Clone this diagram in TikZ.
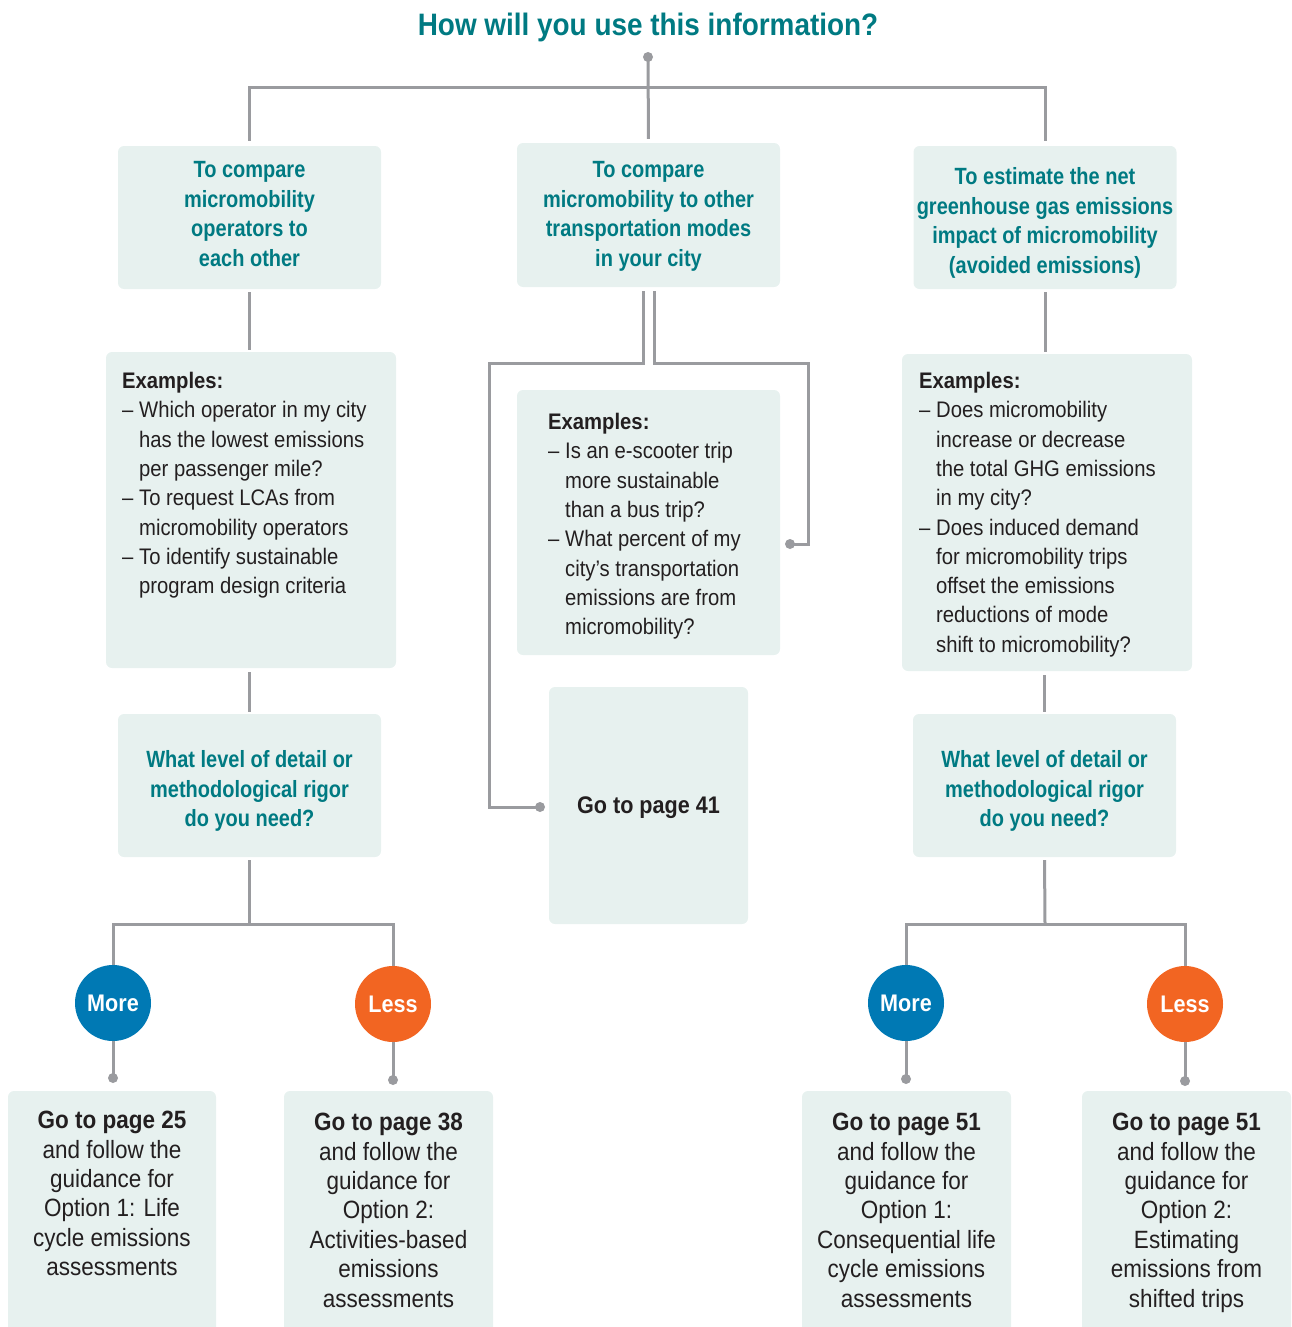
\documentclass[tikz,border=0pt]{standalone}
\usepackage{fontspec}
\setmainfont[FakeStretch=0.9]{Liberation Sans}
\newfontfamily\titlefont[FakeStretch=0.9]{Liberation Sans}
\newfontfamily\tealfont[FakeStretch=0.85]{Liberation Sans}
\usetikzlibrary{calc}
\definecolor{tealtxt}{HTML}{007A82}
\definecolor{boxfill}{HTML}{E7F1EF}
\definecolor{linegray}{HTML}{9A9B9F}
\definecolor{darktxt}{HTML}{231F20}
\definecolor{moreblue}{HTML}{0079B4}
\definecolor{lessorange}{HTML}{F26522}
\begin{document}
\begin{tikzpicture}[x=1pt,y=-1pt,
  box/.style={fill=boxfill, rounded corners=6pt, inner sep=0pt, align=center},
  tealbox/.style={box, minimum width=263pt, minimum height=143pt},
  tealtext/.style={anchor=north, align=center, inner sep=0pt, text=tealtxt, font=\tealfont\fontsize{23.5}{29.5}\selectfont\bfseries},
  conn/.style={draw=linegray, line width=3pt},
  dot/.style={circle, fill=linegray, inner sep=0pt, minimum size=10pt},
  bubble/.style={circle, inner sep=0pt, minimum size=76pt, text=white, font=\fontsize{24}{28}\selectfont\bfseries},
  extext/.style={anchor=north west, align=left, inner sep=0pt, text=darktxt, font=\fontsize{22.5}{29.3}\selectfont},
  gotext/.style={anchor=north, align=center, inner sep=0pt, text=darktxt, font=\fontsize{25}{29.4}\selectfont}
]
\useasboundingbox (0,0) rectangle (1292,1327);
\newcommand{\dsh}{\makebox[17pt][l]{–}}
\newcommand{\ind}{\hspace*{17pt}}

% title
\node[text=tealtxt, font=\titlefont\fontsize{31}{36}\selectfont\bfseries] (title) at (648,27) {How will you use this information?};

% first row
\node[tealbox] (A1) at (249.5,217.5) {};
\node[tealbox, minimum height=144pt] (B1) at (648.5,215) {};
\node[tealbox] (C1) at (1045,217.5) {};
\node[tealtext] (A1t) at (249.5,161.5) {To compare\\micromobility\\operators to\\each other};
\node[tealtext] (B1t) at (648.5,161.5) {To compare\\micromobility to other\\transportation modes\\in your city};
\node[tealtext] (C1t) at (1045,167.5) {To estimate the net\\greenhouse gas emissions\\impact of micromobility\\(avoided emissions)};

% examples boxes
\node[box, minimum width=290pt, minimum height=316pt] (A2) at (251,510) {};
\node[extext] (A2t) at (122,372) {\textbf{Examples:}\\
\dsh Which operator in my city\\
\ind has the lowest emissions\\
\ind per passenger mile?\\
\dsh To request LCAs from\\
\ind micromobility operators\\
\dsh To identify sustainable\\
\ind program design criteria};

\node[box, minimum width=263pt, minimum height=265pt] (B2) at (648.5,522.5) {};
\node[extext] (B2t) at (548,413) {\textbf{Examples:}\\
\dsh Is an e-scooter trip\\
\ind more sustainable\\
\ind than a bus trip?\\
\dsh What percent of my\\
\ind city’s transportation\\
\ind emissions are from\\
\ind micromobility?};

\node[box, minimum width=290pt, minimum height=317pt] (C2) at (1047,512.5) {};
\node[extext] (C2t) at (919,372) {\textbf{Examples:}\\
\dsh Does micromobility\\
\ind increase or decrease\\
\ind the total GHG emissions\\
\ind in my city?\\
\dsh Does induced demand\\
\ind for micromobility trips\\
\ind offset the emissions\\
\ind reductions of mode\\
\ind shift to micromobility?};

% question boxes
\node[tealbox] (A3) at (249.5,785.5) {};
\node[tealbox] (C3) at (1044.5,785.5) {};
\node[tealtext] (A3t) at (249.5,750.5) {What level of detail or\\methodological rigor\\do you need?};
\node[tealtext] (C3t) at (1044.5,750.5) {What level of detail or\\methodological rigor\\do you need?};

% go to page 41
\node[box, minimum width=199pt, minimum height=237pt, text=darktxt, text depth=0pt, font=\fontsize{24}{29}\selectfont\bfseries] (B3) at (648.5,805.5) {Go to page 41};

% bubbles
\node[bubble, fill=moreblue] (M1) at (113,1003) {More};
\node[bubble, fill=lessorange] (L1) at (393,1004) {Less};
\node[bubble, fill=moreblue] (M2) at (906,1003) {More};
\node[bubble, fill=lessorange] (L2) at (1185,1004) {Less};

% bottom boxes
\node[box, minimum width=208pt, minimum height=260pt] (A4) at (112,1221) {};
\node[box, minimum width=209pt, minimum height=260pt] (A5) at (388.5,1221) {};
\node[box, minimum width=209pt, minimum height=260pt] (C4) at (906.5,1221) {};
\node[box, minimum width=209pt, minimum height=260pt] (C5) at (1186.5,1221) {};
\node[gotext] (A4t) at (112,1111) {\textbf{Go to page 25}\\and follow the\\guidance for\\Option 1: Life\\cycle emissions\\assessments};
\node[gotext] (A5t) at (388.5,1113) {\textbf{Go to page 38}\\and follow the\\guidance for\\Option 2:\\Activities-based\\emissions\\assessments};
\node[gotext] (C4t) at (906.5,1113) {\textbf{Go to page 51}\\and follow the\\guidance for\\Option 1:\\Consequential life\\cycle emissions\\assessments};
\node[gotext] (C5t) at (1186.5,1113) {\textbf{Go to page 51}\\and follow the\\guidance for\\Option 2:\\Estimating\\emissions from\\shifted trips};

% dots
\node[dot] (d0) at (648,57) {};
\node[dot] (dL) at (540,807) {};
\node[dot] (dR) at (790,544) {};
\node[dot] (dA4) at (113,1078) {};
\node[dot] (dA5) at (393,1080) {};
\node[dot] (dC4) at (906,1079) {};
\node[dot] (dC5) at (1185,1081) {};

% connectors top
\coordinate (bus) at (648,88);
\draw[conn, shorten >=4pt] (d0.center) -- (B1.north);
\draw[conn, shorten <=5pt, shorten >=5pt] (A1.north) |- (bus) -| (C1.north);

% left column
\draw[conn, shorten <=3pt, shorten >=2pt] (A1.south) -- (A1.south |- A2.north);
\draw[conn, shorten <=4pt, shorten >=2pt] (A3.north |- A2.south) -- (A3.north);
\coordinate (sA) at (249.5,924);
\draw[conn, shorten <=3pt] (A3.south) -- (sA);
\draw[conn] (M1.north) |- (sA) -| (L1.north);
\draw[conn] (M1.south) -- (dA4.center);
\draw[conn] (L1.south) -- (dA5.center);

% centre column
\draw[conn] ($(B1.south)+(-5.5,4)$) |- (489,363) |- (dL.center);
\draw[conn] ($(B1.south)+(5.5,4)$) |- (808,363) |- (dR.center);

% right column
\draw[conn, shorten <=3pt, shorten >=2pt] (C1.south) -- (C1.south |- C2.north);
\draw[conn, shorten <=4pt, shorten >=2pt] (C3.north |- C2.south) -- (C3.north);
\coordinate (sC) at (1045,924);
\draw[conn, shorten <=3pt] (C3.south) -- (sC);
\draw[conn] (M2.north) |- (sC) -| (L2.north);
\draw[conn] (M2.south) -- (dC4.center);
\draw[conn] (L2.south) -- (dC5.center);
\end{tikzpicture}
\end{document}
